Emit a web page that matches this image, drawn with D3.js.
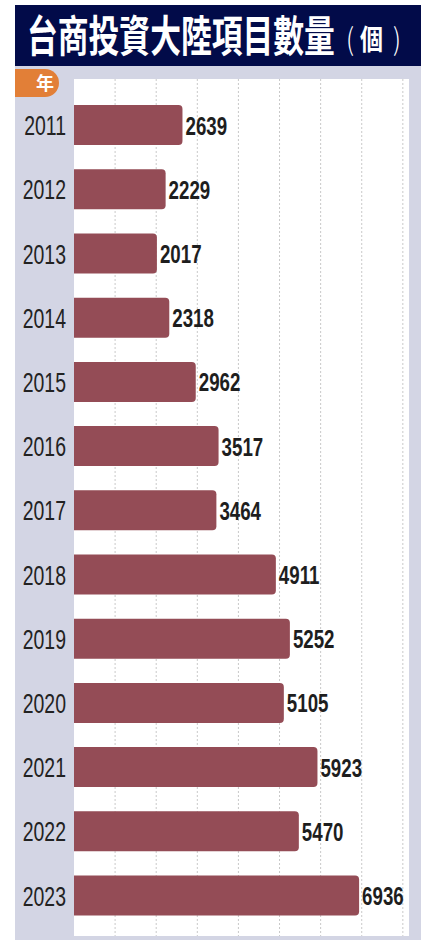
<!DOCTYPE html>
<html>
<head>
<meta charset="utf-8">
<script src="https://cdn.jsdelivr.net/npm/d3@7"></script>
<style>
  body { margin: 0; background: #fff; }
  svg { display: block; }
</style>
</head>
<body>
<div id="chart"></div>
<script>
// data
const years = ["2011", "2012", "2013", "2014", "2015", "2016", "2017",
               "2018", "2019", "2020", "2021", "2022", "2023"];
const projects = [2639, 2229, 2017, 2318, 2962, 3517, 3464,
                  4911, 5252, 5105, 5923, 5470, 6936];
const gridTicks = [1000, 2000, 3000, 4000, 5000, 6000, 7000, 8000];
const titleMain = "台商投資大陸項目數量";
const titleUnit = "個";
const yearLabel = "年";

const W = 431, H = 943;

const svg = d3.select("#chart").append("svg")
    .attr("width", W)
    .attr("height", H);

// squeeze text horizontally to look like a condensed face
function condense(sel, ratio) {
    sel.each(function() {
        let len = this.getComputedTextLength();
        d3.select(this)
            .attr("textLength", len * ratio)
            .attr("lengthAdjust", "spacingAndGlyphs");
    });
}

// fit a text into a given width by scaling it on x (keeps bbox honest)
function fitWidth(sel, x0, y0, width) {
    sel.each(function() {
        let len = this.getComputedTextLength();
        d3.select(this)
            .attr("transform", `translate(${x0},${y0}) scale(${width / len},1)`);
    });
}

const cjk = "'Noto Sans CJK TC', 'Noto Sans CJK SC', sans-serif";

// panels
svg.append("rect")
    .attr("x", 15).attr("y", 66)
    .attr("width", 406).attr("height", 874)
    .attr("fill", "#d3d5e4");

svg.append("rect")
    .attr("x", 15).attr("y", 5)
    .attr("width", 406).attr("height", 61)
    .attr("fill", "#020b49");

let plot = { left: 74, right: 409, top: 79, bottom: 936 };

svg.append("rect")
    .attr("x", plot.left).attr("y", plot.top)
    .attr("width", plot.right - plot.left)
    .attr("height", plot.bottom - plot.top)
    .attr("fill", "#fff");

// title
svg.append("text")
    .attr("fill", "#fff")
    .style("font-family", cjk)
    .style("font-weight", 700)
    .style("font-size", "43.5px")
    .text(titleMain)
    .call(fitWidth, 27, 51.5, 308);

// unit: thin parens round a smaller 個
let paren = [["(", 346], [")", 393]];
svg.append("g")
    .selectAll("text")
    .data(paren)
    .enter().append("text")
    .attr("fill", "#fff")
    .style("font-family", cjk)
    .style("font-weight", 300)
    .style("font-size", "30px")
    .text(d => d[0])
    .each(function(d) { d3.select(this).call(fitWidth, d[1], 50, 8); });

svg.append("text")
    .attr("fill", "#fff")
    .style("font-family", cjk)
    .style("font-weight", 700)
    .style("font-size", "28px")
    .text(titleUnit)
    .call(fitWidth, 360, 50, 23);

// 年 badge
svg.append("path")
    .attr("d", "M15,69 H45 A14,14 0 0 1 45,97 H15 Z")
    .attr("fill", "#e27f37");

svg.append("text")
    .attr("x", 45).attr("y", 89.5)
    .attr("text-anchor", "middle")
    .attr("fill", "#fff")
    .style("font-family", cjk)
    .style("font-weight", 700)
    .style("font-size", "18px")
    .text(yearLabel);

// scales
let x = d3.scaleLinear()
    .domain([0, 8150])
    .range([plot.left, plot.right]);

let y = d3.scaleBand()
    .domain(years)
    .range([93, 927.6])
    .paddingInner(0.377)
    .paddingOuter(0.1885);

// dashed grid
svg.append("g")
    .selectAll("line")
    .data(gridTicks)
    .enter().append("line")
    .attr("x1", d => x(d)).attr("x2", d => x(d))
    .attr("y1", plot.top).attr("y2", plot.bottom)
    .attr("stroke", "#c9c9c9")
    .attr("stroke-width", 1)
    .attr("stroke-dasharray", "2,2");

// bars
svg.append("g")
    .selectAll("rect")
    .data(projects)
    .enter().append("rect")
    .attr("x", x(0) - 5)
    .attr("y", (d, i) => y(years[i]))
    .attr("width", d => x(d) - x(0) + 5)
    .attr("height", y.bandwidth())
    .attr("rx", 4)
    .attr("fill", "#944c56");

// cover the rounded left ends with the panel edge
svg.append("rect")
    .attr("x", 64).attr("y", plot.top)
    .attr("width", 10).attr("height", plot.bottom - plot.top)
    .attr("fill", "#d3d5e4");

// year labels
svg.append("g")
    .selectAll("text")
    .data(years)
    .enter().append("text")
    .attr("x", 66)
    .attr("y", d => y(d) + y.bandwidth() / 2 + 10)
    .attr("text-anchor", "end")
    .attr("fill", "#222")
    .style("font-family", "'Liberation Sans', Arial, sans-serif")
    .style("font-size", "27px")
    .text(d => d)
    .call(condense, 0.72);

// value labels
svg.append("g")
    .selectAll("text")
    .data(projects)
    .enter().append("text")
    .attr("x", d => x(d) + 3)
    .attr("y", (d, i) => y(years[i]) + y.bandwidth() / 2 + 9.5)
    .attr("fill", "#1e1e1e")
    .style("font-family", "'Liberation Sans', Arial, sans-serif")
    .style("font-weight", 700)
    .style("font-size", "26px")
    .text(d => d)
    .call(condense, 0.72);
</script>
</body>
</html>
